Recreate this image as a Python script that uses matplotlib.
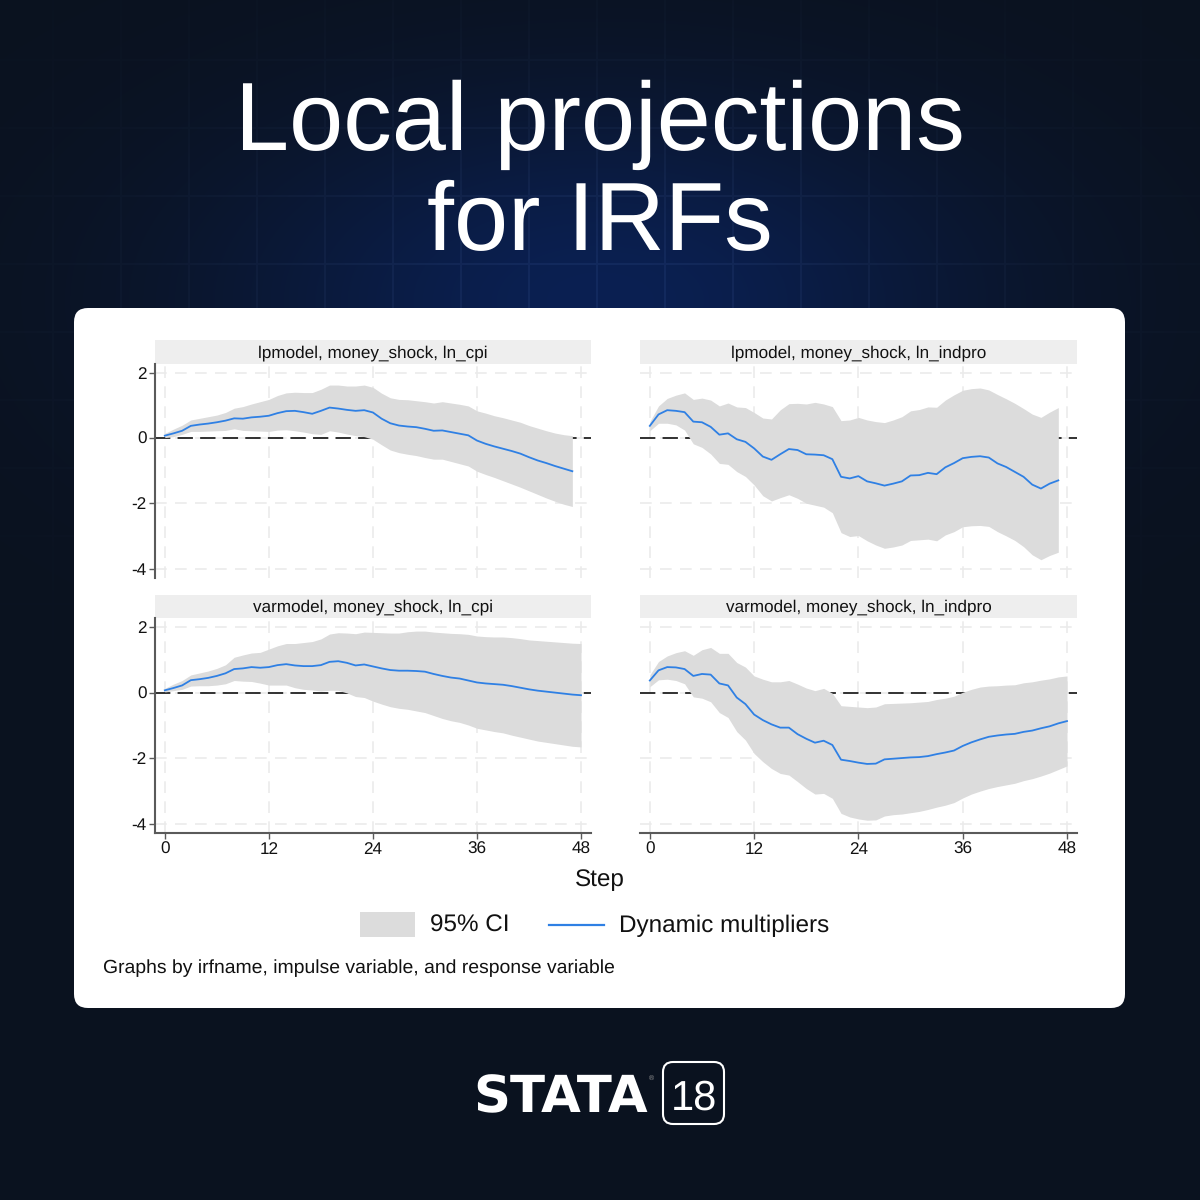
import numpy as np
from matplotlib import pyplot as plt
from matplotlib.patches import FancyBboxPatch, Rectangle

steps = np.arange(49)
xticks = [0, 12, 24, 36, 48]
yticks = [-4, -2, 0, 2]

lp_cpi_irf = [.07, .14, .22, .37, .41, .44, .48, .53, .60, .59, .63, .65, .68, .76, .82, .83, .79, .74, .83, .93,
              .90, .86, .83, .85, .78, .59, .45, .38, .35, .33, .28, .22, .23, .18, .13, .08, -.08, -.18, -.26, -.33,
              -.40, -.48, -.59, -.69, -.77, -.86, -.94, -1.02]
lp_cpi_hi = [.14, .27, .39, .55, .60, .65, .70, .78, .91, .96, 1.04, 1.11, 1.18, 1.30, 1.38, 1.40, 1.39, 1.39, 1.49,
             1.62, 1.62, 1.59, 1.59, 1.62, 1.55, 1.37, 1.23, 1.18, 1.17, 1.14, 1.11, 1.07, 1.11, 1.07, 1.03, .98,
             .83, .76, .68, .62, .55, .48, .38, .30, .22, .15, .10, .07]
lp_cpi_lo = [.01, .04, .11, .20, .20, .21, .22, .23, .28, .23, .22, .21, .20, .24, .25, .22, .18, .13, .11, .22, .18,
             .12, .07, .04, -.04, -.21, -.37, -.45, -.50, -.54, -.60, -.65, -.65, -.72, -.79, -.86, -1.02, -1.12,
             -1.21, -1.31, -1.41, -1.51, -1.62, -1.73, -1.84, -1.94, -2.03, -2.10]

lp_ind_irf = [.37, .72, .85, .83, .79, .50, .48, .34, .10, .14, -.04, -.12, -.32, -.57, -.67, -.50, -.34, -.37, -.50,
              -.51, -.53, -.65, -1.19, -1.24, -1.17, -1.33, -1.39, -1.46, -1.40, -1.33, -1.15, -1.14, -1.07, -1.11,
              -.90, -.77, -.62, -.58, -.56, -.60, -.78, -.89, -1.04, -1.19, -1.43, -1.55, -1.40, -1.30]
lp_ind_hi = [.50, .98, 1.21, 1.31, 1.38, 1.18, 1.22, 1.16, .98, 1.07, .95, .93, .78, .61, .58, .86, 1.05, 1.06, 1.04,
             1.09, 1.04, .96, .53, .55, .63, .55, .50, .47, .55, .65, .83, .87, .95, .94, 1.16, 1.32, 1.46, 1.51,
             1.53, 1.47, 1.33, 1.20, 1.06, .90, .73, .63, .79, .93]
lp_ind_lo = [.22, .45, .45, .40, .24, -.18, -.29, -.49, -.78, -.81, -1.03, -1.18, -1.44, -1.77, -1.93, -1.83, -1.74,
             -1.85, -2.00, -2.06, -2.12, -2.29, -2.90, -3.02, -2.99, -3.15, -3.28, -3.38, -3.34, -3.28, -3.14, -3.12,
             -3.10, -3.15, -2.97, -2.87, -2.72, -2.69, -2.68, -2.71, -2.87, -3.00, -3.14, -3.33, -3.58, -3.73, -3.60,
             -3.50]

var_cpi_irf = [.07, .14, .22, .38, .41, .45, .51, .59, .72, .74, .78, .76, .78, .84, .87, .83, .81, .81, .84, .94, .96,
               .91, .83, .86, .80, .74, .69, .67, .67, .66, .64, .57, .51, .46, .43, .37, .31, .28, .26, .24, .20, .15,
               .10, .06, .03, 0, -.03, -.06, -.08]
var_cpi_hi = [.13, .26, .37, .54, .60, .66, .74, .85, 1.08, 1.15, 1.21, 1.23, 1.33, 1.43, 1.50, 1.50, 1.53, 1.56, 1.64,
              1.79, 1.83, 1.82, 1.80, 1.85, 1.84, 1.83, 1.82, 1.82, 1.86, 1.88, 1.88, 1.85, 1.83, 1.81, 1.80, 1.78,
              1.73, 1.71, 1.70, 1.70, 1.68, 1.65, 1.61, 1.59, 1.57, 1.55, 1.53, 1.51, 1.50]
var_cpi_lo = [.02, .06, .10, .20, .21, .21, .23, .27, .37, .35, .34, .29, .23, .23, .23, .15, .10, .08, .05, .07, .07,
              -.01, -.12, -.15, -.26, -.35, -.43, -.48, -.51, -.56, -.61, -.70, -.79, -.86, -.91, -.99, -1.09, -1.14,
              -1.19, -1.23, -1.30, -1.36, -1.42, -1.48, -1.52, -1.56, -1.60, -1.64, -1.66]

var_ind_irf = [.37, .68, .78, .77, .72, .51, .57, .55, .28, .22, -.15, -.35, -.67, -.84, -.97, -1.07, -1.07, -1.27,
               -1.41, -1.53, -1.47, -1.60, -2.05, -2.09, -2.14, -2.18, -2.17, -2.04, -2.02, -2.00, -1.98, -1.97, -1.94,
               -1.88, -1.83, -1.77, -1.63, -1.52, -1.43, -1.35, -1.31, -1.28, -1.26, -1.20, -1.16, -1.09, -1.03, -.94,
               -.87]
var_ind_hi = [.54, .95, 1.12, 1.22, 1.28, 1.14, 1.31, 1.38, 1.20, 1.20, .92, .78, .51, .41, .33, .33, .37, .26, .14,
              .06, .13, -.02, -.40, -.42, -.44, -.46, -.44, -.34, -.33, -.32, -.31, -.29, -.27, -.21, -.17, -.11, .01,
              .10, .17, .20, .21, .23, .24, .30, .33, .38, .42, .48, .51]
var_ind_lo = [.18, .39, .41, .37, .27, -.13, -.17, -.28, -.61, -.76, -1.19, -1.45, -1.86, -2.11, -2.32, -2.47, -2.52,
              -2.72, -2.93, -3.10, -3.08, -3.23, -3.69, -3.80, -3.86, -3.90, -3.89, -3.77, -3.73, -3.71, -3.67, -3.63,
              -3.57, -3.50, -3.44, -3.36, -3.22, -3.10, -3.01, -2.93, -2.87, -2.82, -2.77, -2.69, -2.63, -2.55, -2.46,
              -2.35, -2.24]

titles = ["lpmodel, money_shock, ln_cpi", "lpmodel, money_shock, ln_indpro",
          "varmodel, money_shock, ln_cpi", "varmodel, money_shock, ln_indpro"]

plt.rcParams['font.family'] = ['Liberation Sans', 'DejaVu Sans']
plt.rcParams['text.hinting'] = 'no_hinting'

W = 1200
CI_COLOR = '#dcdcdc'
LINE_COLOR = '#2f80e4'
GRID_COLOR = '#ebebeb'
AXIS_COLOR = '#5a5a5a'
TEXT_COLOR = '#111111'


def box(left, top, right, bottom):
    return [left / W, 1 - bottom / W, (right - left) / W, (bottom - top) / W]


def panel(fig, rect, irf, lo, hi, title, strip, show_left, show_bottom):
    ax = fig.add_axes(box(*rect))
    ax.patch.set_alpha(0)
    x = steps[:len(irf)]
    ax.set_xlim(-1.13, 49.15)
    ax.set_ylim(-4.29, 2.28)
    ax.set_xticks(xticks)
    ax.set_yticks(yticks)
    ax.grid(True, color=GRID_COLOR, lw=1.2, ls=(0, (7, 5)))
    ax.set_axisbelow(True)
    ax.axhline(0, color='#222222', lw=1.3, ls=(0, (8.5, 4)), zorder=1.5)
    ax.fill_between(x, lo, hi, color=CI_COLOR, lw=0, zorder=2)
    ax.plot(x, irf, color=LINE_COLOR, lw=1.3, zorder=3)

    for s in ('top', 'right'):
        ax.spines[s].set_visible(False)
    ax.spines['left'].set_visible(show_left)
    ax.spines['bottom'].set_visible(show_bottom)
    ax.spines['left'].set_color(AXIS_COLOR)
    ax.spines['bottom'].set_color(AXIS_COLOR)
    ax.spines['left'].set_linewidth(1.5)
    ax.spines['bottom'].set_linewidth(1.5)
    ax.tick_params(axis='x', bottom=show_bottom, labelbottom=show_bottom, length=4, width=1, color=AXIS_COLOR,
                   labelsize=12.3, pad=2, labelcolor=TEXT_COLOR)
    ax.tick_params(axis='y', left=show_left, labelleft=show_left, length=4, width=1, color=AXIS_COLOR,
                   labelsize=12.3, pad=2, labelcolor=TEXT_COLOR)
    ax.set_yticklabels([str(t) for t in yticks])

    over.add_patch(Rectangle((rect[0], strip[0]), rect[2] - rect[0], strip[1] - strip[0], color='#eeeeee', lw=0,
                             zorder=3))
    over.text((rect[0] + rect[2]) / 2, strip[1] - 6.5, title, ha='center', va='baseline', fontsize=12.3,
              color=TEXT_COLOR, zorder=4)


fig = plt.figure(figsize=(12, 12), dpi=100)
fig.patch.set_facecolor('#0a121f')

over = fig.add_axes([0, 0, 1, 1], zorder=0)
over.axis('off')

# background: glow behind the panel and a faint square grid that fades out
yy, xx = np.mgrid[0:W, 0:W]
glow = np.exp(-(((xx - 600) / 380) ** 2 + ((yy - 300) / 200) ** 2))
fade = np.exp(-(((xx - 600) / 480) ** 2 + ((yy - 300) / 260) ** 2))
lines = ((xx - 1004) % 68 < 2) | ((yy - 127) % 68 < 2)
bg = np.zeros((W, W, 3))
for i, (a, b, d) in enumerate(zip((10, 18, 31), (10, 32, 82), (9, 10, 13))):
    bg[:, :, i] = (a + (b - a) * glow + d * fade * lines) / 255
over.imshow(bg, extent=(0, W, W, 0), aspect='auto', zorder=0)
over.set_xlim(0, W)
over.set_ylim(W, 0)

over.add_patch(FancyBboxPatch((88, 322), 1023, 672, boxstyle='round,pad=14,rounding_size=14', fc='white', ec='none',
                              zorder=1))

over.text(600, 150, "Local projections", ha='center', va='baseline', fontsize=70, color='white', zorder=2)
over.text(600, 250, "for IRFs", ha='center', va='baseline', fontsize=70, color='white', zorder=2)

fig_rects = [(155, 363.5, 591, 578), (640, 363.5, 1077, 578), (155, 618, 591, 833), (640, 618, 1077, 833)]
strips = [(340, 363.5), (340, 363.5), (595, 618), (595, 618)]
irfs = [lp_cpi_irf, lp_ind_irf, var_cpi_irf, var_ind_irf]
los = [lp_cpi_lo, lp_ind_lo, var_cpi_lo, var_ind_lo]
his = [lp_cpi_hi, lp_ind_hi, var_cpi_hi, var_ind_hi]
for i in range(4):
    panel(fig, fig_rects[i], irfs[i], los[i], his[i], titles[i], strips[i], i % 2 == 0, i >= 2)

over.text(600, 886, "Step", ha='center', va='baseline', fontsize=17.5, color=TEXT_COLOR, zorder=3)
over.add_patch(Rectangle((360, 912), 55, 25, color=CI_COLOR, lw=0, zorder=3))
over.text(430, 932, "95% CI", ha='left', va='baseline', fontsize=17.5, color=TEXT_COLOR, zorder=3)
over.plot([549, 604], [925, 925], color=LINE_COLOR, lw=1.6, zorder=3)
over.text(619, 932, "Dynamic multipliers", ha='left', va='baseline', fontsize=17.5, color=TEXT_COLOR, zorder=3)
over.text(103, 973, "Graphs by irfname, impulse variable, and response variable", ha='left', va='baseline',
          fontsize=13.95, color=TEXT_COLOR, zorder=3)

# logo
over.text(561, 1112, "STATA", ha='center', va='baseline', fontsize=37, color='white', family='DejaVu Sans',
          fontweight='bold', zorder=3)
over.text(649, 1078, "®", ha='left', va='center', fontsize=5, color='#9a9a9a', zorder=3)
over.add_patch(FancyBboxPatch((673, 1072), 41, 42, boxstyle='round,pad=10,rounding_size=10', fc='none', ec='white',
                              lw=1.5, zorder=3))
over.text(693.5, 1110, "18", ha='center', va='baseline', fontsize=30, color='white', zorder=3)

fig.savefig('out.png', dpi=100, facecolor=fig.get_facecolor())
